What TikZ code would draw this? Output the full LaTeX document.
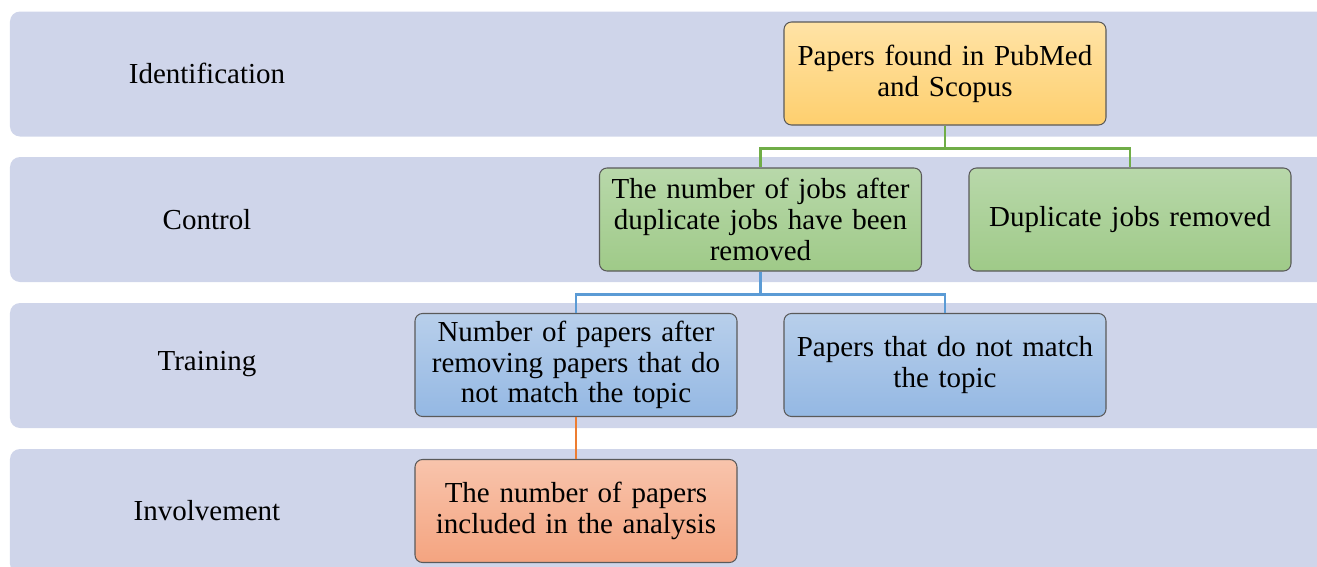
\documentclass[tikz,border=0pt]{standalone}
\usepackage{fontspec}
\setmainfont{Liberation Serif}
\usepackage{tikz}
\usetikzlibrary{positioning, calc}

\definecolor{bandfill}{HTML}{CFD5EA}
\definecolor{boxline}{HTML}{5A5A5A}
\definecolor{linkgreen}{HTML}{70AD47}
\definecolor{linkblue}{HTML}{5B9BD5}
\definecolor{linkorange}{HTML}{ED7D31}
\definecolor{yellowtop}{HTML}{FFE3A6}
\definecolor{yellowbot}{HTML}{FECF6E}
\definecolor{greentop}{HTML}{B8D8AA}
\definecolor{greenbot}{HTML}{9FCA88}
\definecolor{bluetop}{HTML}{B8CFEB}
\definecolor{bluebot}{HTML}{94B8E3}
\definecolor{orangetop}{HTML}{F8C4AC}
\definecolor{orangebot}{HTML}{F4A480}

\begin{document}
\begin{tikzpicture}[
        band/.style={rectangle, rounded corners=0.2cm, fill=bandfill, minimum width=26.5cm, minimum height=2.5cm},
        phase/.style={font=\fontsize{16.5}{17.5}\selectfont},
        box/.style={rectangle, rounded corners=0.15cm, draw=boxline, line width=0.6pt, minimum width=6.44cm, minimum height=2.06cm, text width=6.1cm, align=center, font=\fontsize{16.5}{17.5}\selectfont},
        link/.style={line width=1.2pt}]

        \useasboundingbox (0,0) rectangle (26.34,-11.34);

        % Bandas
        \node[band] (bid) at (13.45,-1.48) {};
        \node[band] (bco) at (13.45,-4.39) {};
        \node[band] (btr) at (13.45,-7.31) {};
        \node[band] (bin) at (13.45,-10.23) {};

        \node[phase] at (4.14,-1.46) {Identification};
        \node[phase] at (4.14,-4.39) {Control};
        \node[phase] at (4.14,-7.29) {Training};
        \node[phase] at (4.14,-10.21) {Involvement};

        % Cajas
        \node[box, top color=yellowtop, bottom color=yellowbot] (found) at (18.9,-1.47) {Papers found in PubMed\\ and Scopus};
        \node[box, top color=greentop, bottom color=greenbot] (after) at (15.21,-4.39) {The number of jobs after\\ duplicate jobs have been\\ removed};
        \node[box, top color=greentop, bottom color=greenbot] (dup) at (22.6,-4.39) {Duplicate jobs removed};
        \node[box, top color=bluetop, bottom color=bluebot] (kept) at (11.52,-7.3) {Number of papers after\\ removing papers that do\\ not match the topic};
        \node[box, top color=bluetop, bottom color=bluebot] (nomatch) at (18.9,-7.3) {Papers that do not match\\ the topic};
        \node[box, top color=orangetop, bottom color=orangebot] (incl) at (11.52,-10.22) {The number of papers\\ included in the analysis};

        % Conexiones
        \draw[link, linkgreen] (found.south) -- ++(0,-0.46) -| (after.north);
        \draw[link, linkgreen] (found.south) -- ++(0,-0.46) -| (dup.north);
        \draw[link, linkblue] (after.south) -- ++(0,-0.46) -| (kept.north);
        \draw[link, linkblue] (after.south) -- ++(0,-0.46) -| (nomatch.north);
        \draw[link, linkorange] (kept.south) -- (incl.north);
    \end{tikzpicture}
\end{document}
